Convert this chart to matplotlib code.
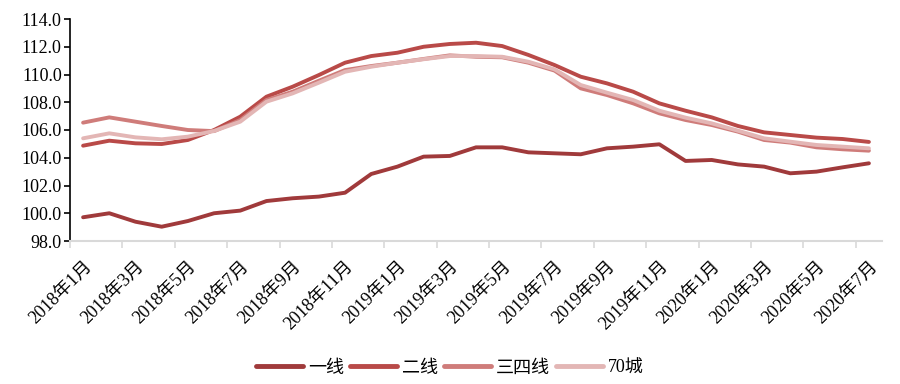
import matplotlib
matplotlib.use('Agg')
import matplotlib.pyplot as plt

plt.rcParams['font.family'] = ['Liberation Serif', 'Noto Sans CJK SC']

months = []
for y in (2018, 2019, 2020):
    for m in range(1, 13):
        if y == 2020 and m > 7:
            break
        months.append(f'{y}年{m}月')

tier1 = [99.71, 100.0, 99.39, 99.03, 99.44, 100.0, 100.19, 100.88, 101.08, 101.2, 101.48,
         102.83, 103.36, 104.08, 104.13, 104.75, 104.75, 104.39, 104.32, 104.25, 104.68,
         104.8, 104.97, 103.77, 103.84, 103.52, 103.36, 102.88, 103.0, 103.31, 103.6]
tier2 = [104.87, 105.23, 105.04, 104.99, 105.28, 106.0, 106.96, 108.4, 109.12, 109.96, 110.85,
         111.33, 111.57, 112.0, 112.2, 112.29, 112.05, 111.41, 110.68, 109.84, 109.36,
         108.76, 107.92, 107.39, 106.91, 106.29, 105.83, 105.64, 105.45, 105.35, 105.14]
tier34 = [106.53, 106.91, 106.6, 106.29, 106.0, 105.92, 106.72, 108.16, 108.76, 109.55, 110.32,
          110.61, 110.85, 111.12, 111.38, 111.28, 111.24, 110.85, 110.28, 109.0, 108.52,
          107.92, 107.2, 106.72, 106.36, 105.88, 105.28, 105.09, 104.75, 104.61, 104.51]
city70 = [105.4, 105.76, 105.47, 105.33, 105.52, 105.93, 106.6, 108.04, 108.64, 109.41, 110.2,
          110.56, 110.85, 111.1, 111.33, 111.33, 111.28, 110.92, 110.37, 109.24, 108.69,
          108.16, 107.39, 106.89, 106.48, 105.95, 105.4, 105.16, 104.92, 104.8, 104.68]

names = ['一线', '二线', '三四线', '70城']
colors = ['#a03a3b', '#b94a48', '#cf7c7a', '#e3b6b5']

fig = plt.figure(figsize=(9, 3.84), dpi=100)
ax = fig.add_axes([70 / 900, 143 / 384, 812 / 900, 222 / 384])

x = list(range(len(months)))
for vals, name, c in zip([tier1, tier2, tier34, city70], names, colors):
    ax.plot(x, vals, color=c, lw=2.8, label=name, solid_capstyle='round', solid_joinstyle='round')

ax.set_ylim(98, 114)
ax.set_yticks(range(98, 115, 2))
ax.set_yticklabels([f'{v:.1f}' for v in range(98, 115, 2)], fontsize=13)
ax.set_xlim(-0.5, len(months) - 0.5)

# tick marks between categories, labels on every second category
ax.set_xticks([i - 0.5 for i in range(0, len(months), 2)])
ax.set_xticklabels([])
ax.set_xticks(x[::2], minor=True)
ax.set_xticklabels(months[::2], minor=True, rotation=45, ha='right', va='top',
                   rotation_mode='anchor', fontsize=13)
ax.tick_params(axis='x', which='major', length=5, color='#d9d9d9', width=1.2)
ax.tick_params(axis='x', which='minor', length=0, pad=12)
ax.tick_params(axis='y', length=4, color='black', width=1.2, pad=2)

for s in ['top', 'right']:
    ax.spines[s].set_visible(False)
ax.spines['left'].set_color('black')
ax.spines['left'].set_linewidth(1.2)
ax.spines['bottom'].set_color('#d9d9d9')
ax.spines['bottom'].set_linewidth(1.5)

leg = fig.legend(loc='center', bbox_to_anchor=(0.5, 16 / 384), ncol=4, frameon=False,
                 fontsize=13, handlelength=2.6, handletextpad=0.3, columnspacing=0.3)
for h in leg.get_lines():
    h.set_linewidth(3.5)

fig.savefig('out.png', dpi=100)
